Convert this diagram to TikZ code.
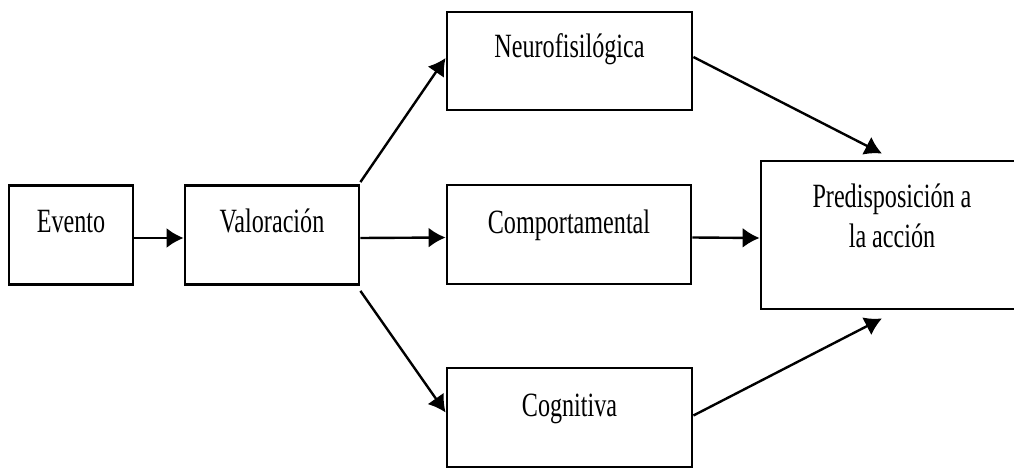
\documentclass[tikz,border=0pt]{standalone}
\usepackage{fontspec}
\setmainfont{Liberation Serif}[FakeStretch=0.71]
\usetikzlibrary{arrows.meta}

\begin{document}
\begin{tikzpicture}[x=1pt,y=-1pt,>={Latex[length=17pt,width=20pt]},
  font=\fontsize{34}{40}\selectfont,
  box/.style={draw,line width=2.8pt,inner sep=0pt,text height=47pt,text depth=52pt}]
\useasboundingbox (0,0) rectangle (1014,468);
\node[box,minimum width=124pt] (evento) at(71,235){Evento};
\node[box,minimum width=174pt] (valor) at(272,235){Valoración};
\node[box,minimum width=245pt,text height=46pt] (neuro) at(569.5,61){Neurofisilógica};
\node[box,minimum width=244pt,text height=48pt,text depth=51pt] (comport) at(569,234.5){Comportamental};
\node[box,minimum width=245pt,text height=48pt,text depth=51pt] (cogni) at(569.5,417.5){Cognitiva};
\node[box,minimum width=262pt,text height=46pt,text depth=102pt] (predis) at(892,235)
  {\begin{tabular}[t]{@{}c@{}}Predisposición a\\la acción\end{tabular}};
\draw[line width=2.4pt,->] ([yshift=-3pt]evento.east) -- ([yshift=-3pt]valor.west);
\draw[line width=2.4pt,->] ([yshift=-3pt]valor.east) -- ([yshift=-3pt]comport.west);
\draw[line width=2.4pt,->] ([yshift=-3pt]comport.east) -- ([yshift=-3pt]predis.west);
\draw[line width=2.4pt,->] ([yshift=2pt]valor.north east) -- ([yshift=3pt]neuro.west);
\draw[line width=2.4pt,->] ([yshift=-5pt]valor.south east) -- ([yshift=5pt]cogni.west);
\draw[line width=2.4pt,->] ([yshift=4pt]neuro.east) -- ([xshift=-10pt,yshift=6pt]predis.north);
\draw[line width=2.4pt,->] ([yshift=2pt]cogni.east) -- ([xshift=-10pt,yshift=-8pt]predis.south);
\end{tikzpicture}
\end{document}
